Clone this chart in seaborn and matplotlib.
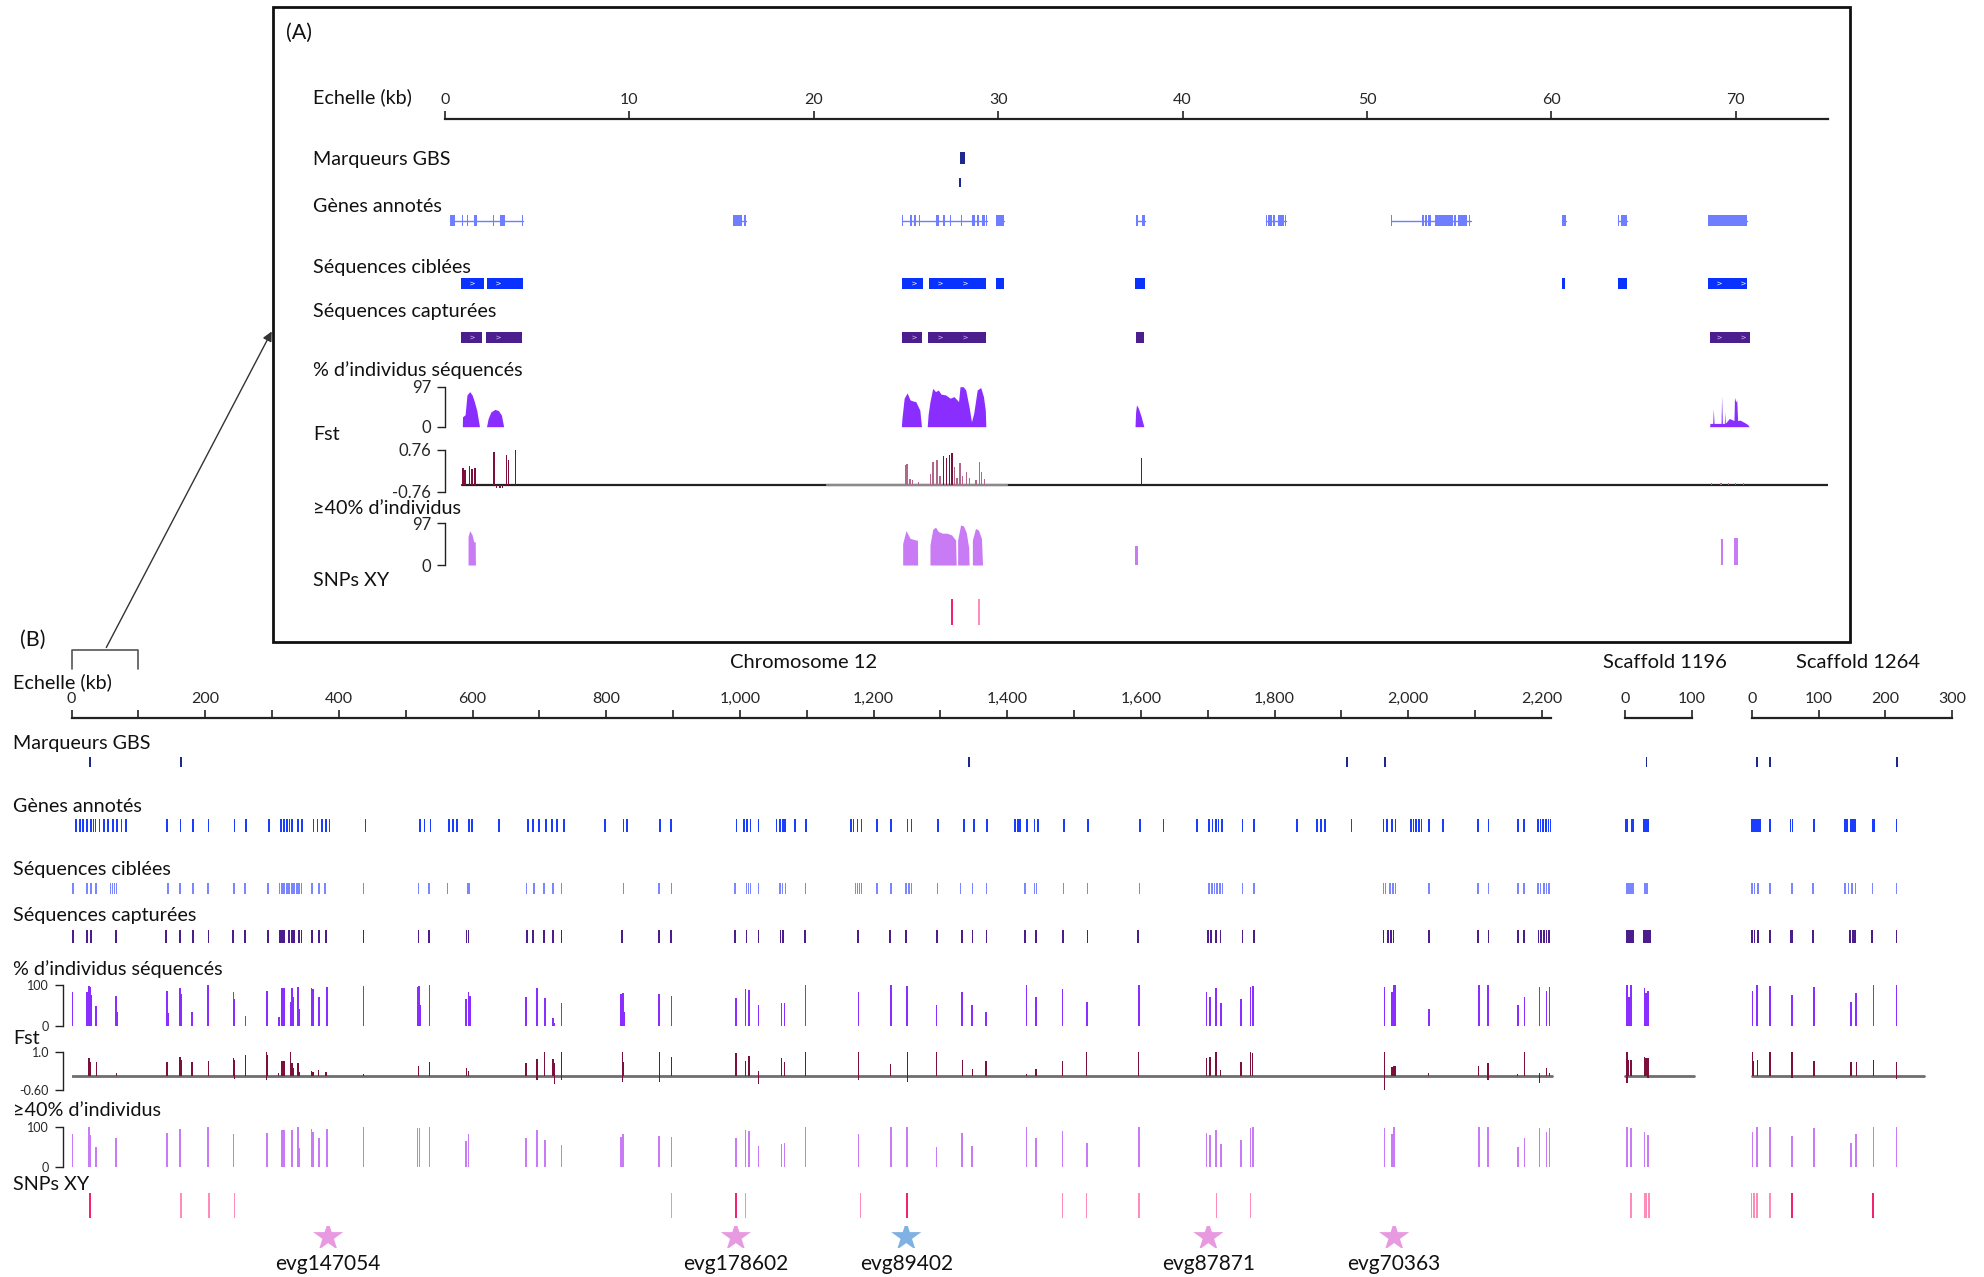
import numpy as np
import matplotlib.pyplot as plt
from matplotlib.patches import Rectangle, FancyArrowPatch
from matplotlib.lines import Line2D
import seaborn as sns

# =========================
# Data - panel A (zoom, kb)
# =========================

gbs_a_row1 = [(27.95, 28.22)]
gbs_a_row2 = [(27.88, 27.96)]

gene_spans_a = [(0.25, 4.22), (15.63, 16.35), (24.8, 29.38), (29.9, 30.3), (37.46, 37.98),
                (44.5, 45.62), (51.3, 55.62), (60.57, 60.78), (63.63, 64.1), (68.5, 70.6)]
exons_a = [(0.25, 0.53), (0.92, 1.0), (1.17, 1.25), (1.56, 1.72), (2.62, 2.68), (2.96, 3.27), (4.16, 4.22),
           (15.63, 16.1), (16.2, 16.35),
           (24.8, 24.86), (25.22, 25.3), (25.44, 25.56), (25.73, 25.78), (26.62, 26.78), (26.99, 27.12),
           (27.38, 27.43), (27.96, 28.05), (28.6, 28.74), (28.86, 28.98), (29.11, 29.27), (29.33, 29.38),
           (29.9, 30.3), (37.46, 37.6), (37.8, 37.98),
           (44.5, 44.6), (44.65, 44.83), (44.9, 45.0), (45.15, 45.5), (45.57, 45.62),
           (51.3, 51.34), (52.2, 52.24), (53.0, 53.1), (53.17, 53.24), (53.32, 53.47), (53.67, 54.66),
           (54.74, 54.81), (54.91, 55.41), (55.53, 55.61),
           (60.57, 60.78), (63.63, 63.67), (63.75, 64.1), (68.5, 70.6)]
targeted_a = [(0.88, 2.09), (2.28, 4.21), (24.78, 25.93), (26.25, 29.36), (29.9, 30.3),
              (37.42, 37.95), (60.57, 60.76), (63.6, 64.1), (68.5, 70.6)]
captured_a = [(0.88, 2.03), (2.25, 4.15), (24.78, 25.87), (26.2, 29.36), (37.45, 37.9), (68.6, 70.75)]
strand_a = [1.47, 2.9, 25.44, 26.87, 28.18, 69.1, 70.4]

# coverage profiles (% of individuals sequenced)
seqpct_a = [
    [(0.94, 0), (0.95, 24), (1.09, 29), (1.19, 77), (1.34, 85), (1.47, 77), (1.59, 61), (1.72, 40), (1.81, 16), (1.87, 0)],
    [(2.25, 0), (2.34, 20), (2.49, 36), (2.71, 42), (2.9, 39), (3.06, 28), (3.18, 0)],
    [(24.75, 0), (24.78, 20), (24.9, 69), (25.06, 82), (25.22, 65), (25.4, 62), (25.53, 61), (25.75, 40), (25.84, 0)],
    [(26.15, 0), (26.2, 30), (26.3, 61), (26.45, 93), (26.6, 85), (26.75, 89), (26.9, 79), (27.15, 77),
     (27.4, 69), (27.6, 73), (27.85, 61), (27.93, 97), (28.1, 97), (28.24, 89), (28.42, 48), (28.55, 12),
     (28.67, 32), (28.86, 89), (29.05, 95), (29.2, 73), (29.3, 40), (29.33, 0)],
    [(37.42, 0), (37.45, 35), (37.5, 53), (37.6, 45), (37.75, 25), (37.9, 0)],
    [(68.58, 0), (68.6, 8), (68.75, 8), (68.78, 44), (68.82, 8), (69.2, 8), (69.23, 74), (69.27, 8),
     (69.38, 8), (69.4, 36), (69.43, 8), (69.65, 20), (69.9, 15), (69.93, 71), (70.0, 60), (70.05, 65),
     (70.1, 15), (70.23, 16), (70.48, 10), (70.65, 5), (70.72, 0)],
]
above40_a = [
    [(1.25, 0), (1.25, 66), (1.34, 80), (1.47, 70), (1.56, 54), (1.64, 54), (1.65, 0)],
    [(24.82, 0), (24.82, 50), (25.0, 80), (25.22, 62), (25.53, 58), (25.62, 58), (25.63, 0)],
    [(26.3, 0), (26.3, 47), (26.45, 83), (26.6, 88), (26.75, 78), (26.97, 74), (27.22, 74), (27.47, 70), (27.69, 58), (27.72, 0)],
    [(27.8, 0), (27.8, 58), (27.96, 93), (28.12, 91), (28.27, 75), (28.4, 40), (28.42, 0)],
    [(28.6, 0), (28.6, 58), (28.77, 85), (28.93, 81), (29.09, 62), (29.15, 0)],
    [(37.43, 0), (37.43, 44), (37.6, 44), (37.6, 0)],
    [(69.2, 0), (69.2, 60), (69.3, 60), (69.3, 0)],
    [(69.9, 0), (69.9, 62), (70.1, 62), (70.1, 0)],
]

fst_a_pos = [0.98, 1.09, 1.34, 1.47, 1.62, 2.65, 3.34, 3.43, 3.83,
             24.97, 25.06, 25.22, 25.37, 25.69, 26.31, 26.46, 26.68, 26.84, 27.02, 27.18, 27.34, 27.49,
             27.62, 27.77, 27.93, 28.08, 28.27, 28.43, 28.8, 28.99, 29.11, 29.27,
             37.76, 68.7, 69.2, 69.6, 70.0, 70.4]
fst_a_val = [0.09, 0.03, 0.18, 0.05, 0.09, 0.70, 0.58, 0.40, 0.76,
             0.21, 0.24, -0.30, -0.35, -0.40, -0.10, 0.33, 0.40, -0.20, 0.54, 0.46, 0.58, 0.64,
             0.15, -0.27, 0.27, -0.18, -0.05, -0.27, -0.33, 0.33, -0.05, -0.31,
             0.46, -0.45, -0.45, -0.46, -0.45, -0.46]
fst_a_dips = [2.81, 2.95, 3.02, 3.1]
fst_a_base = -0.52

snps_a_strong = [27.49]
snps_a_weak = [28.96]

# =========================
# Data - panel B (chromosome 12 + 2 scaffolds, kb)
# =========================

seq_names = ["Chromosome 12", "Scaffold 1196", "Scaffold 1264"]
seq_lengths = [2214, 100, 300]
seq_offsets = [0, 2324, 2514]          # layout position of each sequence on the shared track
fst_b_spans = [2215, 103, 258]

gbs_chr = [27.3, 164.3, 1343.1, 1907.9, 1964.9]
gbs_s1196 = [32.6]
gbs_s1264 = [8.0, 27.6, 217]

genes_chr = [0, 6.5, 13, 17, 23, 29, 33, 36, 42, 49, 55, 62, 68, 75, 81, 143, 163, 182, 205, 244, 261, 295,
             313, 318, 322, 326, 330, 339, 345, 362, 368, 375, 381, 386, 440, 521, 528, 537, 565, 571, 577,
             595, 599, 640, 683, 690, 700, 710, 719, 726, 737, 798, 826, 831, 880, 897, 995, 1006, 1011,
             1016, 1028, 1055, 1060, 1065, 1068, 1083, 1099, 1166, 1170, 1176, 1182, 1205, 1226, 1251, 1257,
             1296, 1335, 1350, 1370, 1412, 1416, 1419, 1430, 1441, 1446, 1485, 1521, 1599, 1634, 1684, 1702,
             1707, 1712, 1716, 1721, 1752, 1769, 1834, 1864, 1869, 1875, 1915, 1963, 1968, 1976, 1981, 2004,
             2008, 2012, 2016, 2020, 2031, 2052, 2104, 2120, 2164, 2173, 2194, 2198, 2202, 2206, 2210, 2213]
genes_s1196 = [1.5, 3, 10, 12, 28.5, 31, 33, 35.5]
genes_s1264 = [0, 3, 6, 9, 12, 27, 58, 61, 93, 139, 143, 148, 152, 155, 180.5, 183, 216.5]

targeted_chr = [2, 23, 29, 37, 58.5, 61.5, 64.5, 67.5, 144.8, 162, 182, 204.5, 243.4, 259.6, 294, 311.5, 315,
                318, 322, 325, 330, 333, 337, 340, 344, 360, 370, 379.7, 436.8, 519, 535, 562.7, 592.5, 595,
                681, 692, 707, 720, 733, 826, 879, 897.5, 993, 1010, 1013, 1016, 1028, 1060, 1064, 1068, 1098,
                1173, 1176, 1179, 1182, 1205, 1226, 1249, 1253, 1257, 1296, 1330, 1348, 1369, 1427, 1441,
                1444, 1484, 1520, 1598, 1702, 1706, 1710, 1714, 1718, 1722, 1752, 1769, 1963, 1966, 1973,
                1977, 1981, 2031, 2104, 2120, 2164, 2173, 2194, 2198, 2203, 2207, 2211]
targeted_s1196 = [3.2, 6, 9, 12.5, 30.4, 33.5]
targeted_s1264 = [0, 4, 9.4, 27.1, 60, 91.7, 139.3, 145, 150, 155.1, 180.4, 216.5]

captured_chr = [2, 23, 29, 67, 141.5, 162, 182, 205, 242, 259.6, 294, 311.5, 315, 318, 325, 330, 333, 340, 344,
                360, 370, 381, 437, 519, 535, 591, 594, 681, 691, 707, 720, 733, 824, 879, 897.5, 993, 1010,
                1028, 1061, 1064, 1098, 1177, 1225, 1249, 1295, 1332, 1348, 1369, 1427, 1443, 1484, 1520,
                1596, 1700, 1705, 1712, 1719, 1752, 1769, 1963, 1970, 1974, 1978, 2031, 2104, 2120, 2164,
                2173, 2195, 2199, 2203, 2207, 2211]
captured_s1196 = [3.5, 6.5, 9.5, 12, 29, 32, 35, 37.5]
captured_s1264 = [0, 4, 9.4, 27.1, 59, 61, 91.7, 147, 152, 155, 180.4, 216.5]

# (position, % of individuals)
seqpct_chr = [(0.5, 84), (22.8, 84), (26.0, 98), (28.0, 96), (29.3, 75), (37.1, 49), (66.9, 74), (68.2, 34),
              (142.8, 85), (144.1, 30), (162.3, 93), (164.2, 78), (180.5, 33), (204.5, 100), (242.1, 82),
              (244.1, 65), (260.3, 25), (292.1, 85), (310.2, 22), (314.8, 92), (318.0, 92), (327.8, 59),
              (329.7, 92), (331.7, 71), (338.8, 96), (340.7, 41), (358.9, 93), (361.5, 90), (370.0, 71),
              (382.3, 94), (436.8, 97), (517.9, 96), (519.9, 98), (522.4, 51), (535.4, 100), (590.6, 66),
              (593.8, 82), (595.8, 74), (680.1, 70), (696.3, 92), (708.0, 67), (720.3, 18), (722.3, 6),
              (733.3, 55), (822.2, 77), (825.5, 81), (827.4, 34), (879.3, 79), (897.5, 74), (994, 69),
              (1008.3, 89), (1013.5, 87), (1027.8, 52), (1062.2, 55), (1066.7, 57), (1098.5, 100),
              (1177.7, 82), (1225.7, 100), (1250.4, 98), (1294.5, 51), (1332.8, 84), (1347.7, 52),
              (1368.5, 33), (1428.8, 100), (1443.1, 70), (1482.7, 90), (1519, 59), (1596.9, 100),
              (1698.1, 82), (1703.3, 71), (1712.4, 92), (1719.5, 55), (1750, 66), (1764.3, 96), (1767.5, 98),
              (1964.3, 94), (1975.7, 82), (1978.9, 100), (1980.8, 100), (2030.8, 40), (2105.6, 100),
              (2119.5, 100), (2163.9, 51), (2174, 71), (2196.2, 94), (2207, 85), (2211.4, 96)]
seqpct_s1196 = [(3.2, 100), (6, 70), (9.5, 100), (29.8, 92), (32, 80), (34.9, 85)]
seqpct_s1264 = [(1.1, 85), (8.1, 100), (27.1, 98), (60, 75), (93, 96), (148.7, 59), (156.3, 80),
                (182.3, 100), (216.5, 100)]

above40_chr = [(0.5, 83), (26.0, 100), (28.0, 80), (37.1, 49), (66.9, 74), (142.8, 86), (162.3, 96),
               (204.5, 100), (242.1, 82), (292.1, 86), (314.8, 93), (318.0, 93), (329.7, 93), (338.8, 100),
               (340.7, 47), (358.9, 96), (361.5, 89), (370, 74), (382.3, 96), (436.8, 100), (517.9, 97),
               (520.5, 97), (535.4, 100), (590.6, 65), (593.8, 83), (680.1, 72), (696.3, 93), (708, 68),
               (733.3, 55), (822.2, 76), (825.5, 82), (879.3, 79), (897.5, 76), (994, 72), (1008.3, 93),
               (1013.5, 91), (1027.8, 53), (1062.2, 58), (1066.7, 59), (1098.5, 100), (1177.7, 83),
               (1225.7, 100), (1250.4, 100), (1294.5, 51), (1332.8, 85), (1347.7, 53), (1428.8, 100),
               (1443.1, 72), (1482.7, 91), (1519, 59), (1596.9, 100), (1698.1, 85), (1703.3, 81),
               (1712.4, 93), (1719.5, 57), (1750, 68), (1764.3, 97), (1767.5, 100), (1964.3, 97),
               (1975.7, 82), (1978.9, 100), (2105.6, 100), (2119.5, 100), (2163.9, 51), (2174, 74),
               (2196.2, 97), (2207, 89), (2211.4, 97)]
above40_s1196 = [(3.2, 100), (9.5, 97), (29.8, 89), (34.9, 80)]
above40_s1264 = [(1.1, 89), (8.1, 100), (27.1, 100), (60, 78), (93, 99), (148.7, 59), (156.3, 82),
                 (182.3, 100), (216.5, 100)]

fst_chr = [(0.1, 0.83), (26.0, 0.72), (28.0, 0.55), (37.1, 0.55), (66.9, 0.1), (142.8, 0.58), (162.3, 0.79),
           (164.2, 0.65), (180.5, 0.55), (204.5, 0.61), (242.1, 0.72), (244.1, 0.65), (260.3, 0.86),
           (292.1, 1.0), (293.4, 0.86), (310.2, 0.1), (314.8, 0.61), (318.0, 0.61), (327.8, 1.0),
           (329.7, 0.51), (331.7, 0.3), (338.8, 0.51), (340.7, 0.17), (358.9, 0.19), (361.5, 0.14),
           (370, 0.24), (381, 0.14), (436.8, 0.06), (519.2, 0.40), (535.4, 0.58), (590.6, 0.3),
           (593.8, 0.19), (680.1, 0.51), (696.3, 0.69), (708, 1.0), (720.3, 0.69), (722.3, 0.51),
           (733.3, 1.0), (824.2, 1.0), (825.5, 0.58), (879.3, 1.0), (897.5, 0.79), (994, 0.93),
           (1008.3, 0.61), (1013.5, 0.82), (1027.8, 0.2), (1062.2, 0.75), (1066.7, 0.58), (1098.5, 0.97),
           (1177.7, 1.0), (1225.7, 0.47), (1250.4, 1.0), (1294.5, 1.0), (1332.8, 0.65), (1347.7, 0.27),
           (1368.5, 0.61), (1428.8, 0.06), (1443.1, 0.29), (1482.7, 0.61), (1519, 1.0), (1596.9, 0.97),
           (1698.1, 0.72), (1703.3, 0.79), (1712.4, 1.0), (1719.5, 0.24), (1750, 0.55), (1764.3, 1.0),
           (1767.5, 0.93), (1964.3, 1.0), (1975.7, 0.37), (1978.9, 0.41), (1980.8, 0.41), (2030.8, 0.1),
           (2105.6, 0.42), (2119.5, 0.51), (2163.9, 0.06), (2174, 1.0), (2196.2, 0.1), (2207, 0.3),
           (2211.4, 0.1),
           (244.1, -0.14), (292.1, -0.18), (696.3, -0.18), (722.3, -0.36), (733.3, -0.18), (824.2, -0.25),
           (879.3, -0.25), (1027.8, -0.36), (1177.7, -0.18), (1250.4, -0.25), (1964.3, -0.6),
           (2119.5, -0.18), (2196.2, -0.32)]
fst_s1196 = [(3.2, 1.0), (6, 0.65), (9.5, 0.65), (29.8, 0.79), (32, 0.72), (34.9, 0.72),
             (3.2, -0.32), (34.9, -0.1)]
fst_s1264 = [(1.1, 1.0), (3, 0.6), (8.1, 0.65), (27.1, 0.97), (60, 1.0), (93, 0.61), (148.7, 0.58),
             (156.3, 0.58), (182.3, 0.65), (216.5, 0.58), (60, -0.1), (216.5, -0.15)]

snps_chr_strong = [27.3, 994, 1250.4]
snps_chr_weak = [163.6, 205.8, 244, 897.5, 1008.3, 1180.3, 1482.7, 1519, 1596.9, 1713, 1764.3]
snps_s1196_strong = []
snps_s1196_weak = [9.5, 30.4, 32.9, 36.1]
snps_s1264_strong = [60, 181.7]
snps_s1264_weak = [0, 3.1, 8.1, 27.1]

candidate_genes = ["evg147054", "evg178602", "evg89402", "evg87871", "evg70363"]
candidate_pos = [384, 994, 1249, 1701, 1979]
candidate_group = ["pink", "pink", "blue", "pink", "pink"]

# =========================
# Style
# =========================

sns.set_theme(style="white")
plt.rcParams["font.family"] = ["Lato", "DejaVu Sans"]

C_GBS = "#1b2a8c"
C_GENE_A = "#6f7dff"
C_TARGET_A = "#0a32ff"
C_GENE_B = "#1a3dff"
C_TARGET_B = "#7a86ff"
C_CAPT = "#4c1d8c"
C_SEQ = "#8a2eff"
C_40 = "#c97af5"
C_FST = "#7c0f3c"
C_FST_LIGHT = "#b0688a"
C_SNP_STRONG = "#f0246f"
C_SNP_WEAK = "#ff8cb8"
star_colors = {"pink": "#e79ae0", "blue": "#7fb2e3"}

LABEL_FS = 14.2
TICK_FS = 11.5

W, H = 1984, 1277
fig = plt.figure(figsize=(W / 100, H / 100), dpi=100)


def add_ax(x0, x1, y0, y1):
    # pixel box (origin top-left) -> figure axes
    ax = fig.add_axes([x0 / W, 1 - y1 / H, (x1 - x0) / W, (y1 - y0) / H])
    ax.patch.set_alpha(0)
    for s in ax.spines.values():
        s.set_visible(False)
    ax.set_xticks([])
    ax.set_yticks([])
    ax.grid(False)
    return ax


def fig_text(x, y, s, **kw):
    kw.setdefault("fontsize", LABEL_FS)
    kw.setdefault("va", "center")
    fig.text(x / W, 1 - y / H, s, color="#111111", **kw)


def scale_axis(ax, ticks, labels):
    ax.spines["top"].set_visible(True)
    ax.spines["top"].set_linewidth(1.6)
    ax.spines["top"].set_color("#222222")
    ax.xaxis.tick_top()
    ax.set_xticks(ticks)
    ax.set_xticklabels(labels, fontsize=TICK_FS)
    ax.tick_params(axis="x", direction="out", length=6, width=1.2, color="#222222", pad=3, top=True, bottom=False)


def bracket_axis(ax, lo, hi, labels, outward, fs, pad):
    ax.spines["left"].set_visible(True)
    ax.spines["left"].set_position(("outward", outward))
    ax.spines["left"].set_linewidth(1.0)
    ax.spines["left"].set_color("#222222")
    ax.set_yticks([lo, hi])
    ax.set_yticklabels(labels, fontsize=fs)
    ax.tick_params(axis="y", left=True, direction="out", length=6, width=1.0, color="#222222", pad=pad)


def blocks(ax, spans, color, off=0.0, y0=0.0, h=1.0):
    ax.bar([s + off for s, e in spans], h, width=[e - s for s, e in spans], bottom=y0,
           align="edge", color=color, linewidth=0)


def marks(ax, pos, color, off=0.0, w=2.8, y0=0.0, h=1.0):
    if len(pos):
        ax.bar([p + off for p in pos], h, width=w, bottom=y0, color=color, linewidth=0)


def spikes(ax, pairs, color, off=0.0, w=2.4, base=0.0):
    ax.bar([p + off for p, v in pairs], [v - base for p, v in pairs], width=w, bottom=base,
           color=color, linewidth=0)


# =========================
# Panel A
# =========================

A_X0, A_PX = 445, 18.44
A_X1 = A_X0 + 75 * A_PX


def a_ax(y0, y1):
    ax = add_ax(A_X0, A_X1, y0, y1)
    ax.set_xlim(0, 75)
    return ax


fig.patches.append(Rectangle((273 / W, 1 - 641.7 / H), (1850 - 273) / W, (641.7 - 7.3) / H,
                             transform=fig.transFigure, fill=False, lw=2.0, edgecolor="#111111"))
fig_text(286, 33, "(A)", fontsize=15.5)

ax = a_ax(119, 120)
scale_axis(ax, np.arange(0, 71, 10), [str(t) for t in range(0, 71, 10)])
fig_text(313, 97, "Echelle (kb)")

fig_text(313, 160, "Marqueurs GBS")
ax = a_ax(152, 187)
ax.set_ylim(0, 1)
blocks(ax, gbs_a_row1, C_GBS, y0=0.66, h=0.34)
blocks(ax, gbs_a_row2, C_GBS, y0=0.0, h=0.26)

fig_text(313, 206, "Gènes annotés")
ax = a_ax(215, 226)
ax.set_ylim(0, 1)
for s, e in gene_spans_a:
    ax.plot([s, e], [0.5, 0.5], color=C_GENE_A, lw=1.0)
blocks(ax, exons_a, C_GENE_A)

fig_text(313, 267, "Séquences ciblées")
ax = a_ax(277.7, 288.7)
ax.set_ylim(0, 1)
blocks(ax, targeted_a, C_TARGET_A)
ax.scatter(strand_a, [0.5] * len(strand_a), marker="$>$", s=10, color="white", lw=0)

fig_text(313, 312, "Séquences capturées")
ax = a_ax(331.7, 342.7)
ax.set_ylim(0, 1)
blocks(ax, captured_a, C_CAPT)
ax.scatter(strand_a, [0.5] * len(strand_a), marker="$>$", s=10, color="#cfc0ff", lw=0)

fig_text(313, 370, "% d’individus séquencés")
ax = a_ax(386.7, 426.7)
ax.set_ylim(0, 97)
for seg in seqpct_a:
    xs, ys = zip(*seg)
    ax.fill_between(xs, ys, 0, color=C_SEQ, lw=0)
bracket_axis(ax, 0, 97, ["0", "97"], 0, 12, 4)

fig_text(313, 435, "Fst")
ax = a_ax(450, 491.7)
ax.set_ylim(-0.76, 0.76)
ax.plot([0.9, 75], [fst_a_base, fst_a_base], color="#222222", lw=1.6, zorder=1)
ax.plot([20.7, 30.5], [fst_a_base + 0.02, fst_a_base + 0.02], color="#8a8a8a", lw=1.6, zorder=1)
fst_cols = [C_FST if (p < 5 or v >= 0.45) else C_FST_LIGHT for p, v in zip(fst_a_pos, fst_a_val)]
ax.bar(fst_a_pos, [v - fst_a_base for v in fst_a_val], width=0.07, bottom=fst_a_base, color=fst_cols,
       linewidth=0, zorder=2)
ax.bar(fst_a_dips, [-0.1] * len(fst_a_dips), width=0.07, bottom=fst_a_base, color=C_FST, linewidth=0, zorder=2)
bracket_axis(ax, -0.76, 0.76, ["-0.76", "0.76"], 0, 12, 4)

fig_text(313, 508, "≥40% d’individus")
ax = a_ax(523.3, 565)
ax.set_ylim(0, 97)
for seg in above40_a:
    xs, ys = zip(*seg)
    ax.fill_between(xs, ys, 0, color=C_40, lw=0)
bracket_axis(ax, 0, 97, ["0", "97"], 0, 12, 4)

fig_text(313, 581, "SNPs XY")
ax = a_ax(599, 625)
ax.set_ylim(0, 1)
marks(ax, snps_a_strong, C_SNP_STRONG, w=0.12)
marks(ax, snps_a_weak, C_SNP_WEAK, w=0.08)

# =========================
# Panel B
# =========================

B_X0, B_PX = 71.5, 0.66836
B_XMAX = 2850


def b_ax(y0, y1):
    ax = add_ax(B_X0, B_X0 + B_XMAX * B_PX, y0, y1)
    ax.set_xlim(0, B_XMAX)
    return ax


fig_text(33, 640, "(B)", fontsize=15.5, ha="center")
fig_text(13, 682, "Echelle (kb)")

for name, length, off in zip(seq_names, seq_lengths, seq_offsets):
    x0 = B_X0 + off * B_PX
    x1 = x0 + length * B_PX
    ax = add_ax(x0, x1, 718.3, 719.3)
    ax.set_xlim(0, length)
    if length > 1000:
        ticks = np.arange(0, length, 100)
        labels = [f"{t:,}" if t % 200 == 0 else "" for t in ticks]
        fig_text(804, 663, name, ha="center", fontsize=14.5)
    else:
        ticks = np.arange(0, length + 1, 100)
        labels = [str(t) for t in ticks]
        fig_text(x0 + {100: 40, 300: 106}[length], 663, name, ha="center", fontsize=14.5)
    scale_axis(ax, ticks, labels)

# bracket + arrow to panel A, drawn in figure pixels
fig.add_artist(Line2D([72.4 / W, 72.4 / W, 138.3 / W, 138.3 / W],
                      [1 - 669.3 / H, 1 - 650 / H, 1 - 650 / H, 1 - 669.3 / H], color="#555555", lw=1.2))
fig.patches.append(FancyArrowPatch((105 / W, 1 - 650 / H), (273 / W, 1 - 329 / H), transform=fig.transFigure,
                                   arrowstyle="-|>", mutation_scale=14, color="#333333", lw=1.0))

track_rows = [
    ("Marqueurs GBS", 744, 756.7, 766.7),
    ("Gènes annotés", 806, 819.3, 831.7),
    ("Séquences ciblées", 869, 882.7, 894),
    ("Séquences capturées", 915, 930, 942.7),
]
feature_sets = [
    ([gbs_chr, gbs_s1196, gbs_s1264], C_GBS, 2.6),
    ([genes_chr, genes_s1196, genes_s1264], C_GENE_B, 2.6),
    ([targeted_chr, targeted_s1196, targeted_s1264], C_TARGET_B, 2.4),
    ([captured_chr, captured_s1196, captured_s1264], C_CAPT, 2.6),
]
for (label, ly, y0, y1), (sets, color, w) in zip(track_rows, feature_sets):
    fig_text(13, ly, label)
    ax = b_ax(y0, y1)
    ax.set_ylim(0, 1)
    for pos, off in zip(sets, seq_offsets):
        marks(ax, pos, color, off=off, w=w)

fig_text(13, 969, "% d’individus séquencés")
ax = b_ax(985, 1025.7)
ax.set_ylim(0, 100)
for pairs, off in zip([seqpct_chr, seqpct_s1196, seqpct_s1264], seq_offsets):
    spikes(ax, pairs, C_SEQ, off=off)
bracket_axis(ax, 0, 100, ["0", "100"], 6.2, 9, 4)

fig_text(13, 1039, "Fst")
ax = b_ax(1051.7, 1090)
ax.set_ylim(-0.6, 1.0)
for span, off in zip(fst_b_spans, seq_offsets):
    ax.plot([off, off + span], [0, 0], color="#6e6e6e", lw=2.0, zorder=1)
for pairs, off in zip([fst_chr, fst_s1196, fst_s1264], seq_offsets):
    spikes(ax, pairs, C_FST, off=off, w=2.0)
bracket_axis(ax, -0.6, 1.0, ["-0.60", "1.0"], 6.2, 9, 4)

fig_text(13, 1111, "≥40% d’individus")
ax = b_ax(1127.3, 1166.7)
ax.set_ylim(0, 100)
for pairs, off in zip([above40_chr, above40_s1196, above40_s1264], seq_offsets):
    spikes(ax, pairs, C_40, off=off)
bracket_axis(ax, 0, 100, ["0", "100"], 6.2, 9, 4)

fig_text(13, 1184, "SNPs XY")
ax = b_ax(1193.3, 1218.3)
ax.set_ylim(0, 1)
for strong, weak, off in zip([snps_chr_strong, snps_s1196_strong, snps_s1264_strong],
                             [snps_chr_weak, snps_s1196_weak, snps_s1264_weak], seq_offsets):
    marks(ax, weak, C_SNP_WEAK, off=off, w=2.2)
    marks(ax, strong, C_SNP_STRONG, off=off, w=3.2)

# candidate genes
ax = b_ax(1226, 1248)
sns.scatterplot(x=candidate_pos, y=[0.5] * len(candidate_pos), hue=candidate_group,
                palette=star_colors, marker="*", s=520, linewidth=0, legend=False, ax=ax)
ax.set_xlim(0, B_XMAX)
ax.set_ylim(0, 1)
ax.set_xlabel("")
ax.set_ylabel("")
for name, p in zip(candidate_genes, candidate_pos):
    ax.annotate(name, (p, 0.0), xytext=(0, -4), textcoords="offset points", ha="center", va="top",
                fontsize=15, color="#111111")

fig.savefig("out.png", dpi=100)
